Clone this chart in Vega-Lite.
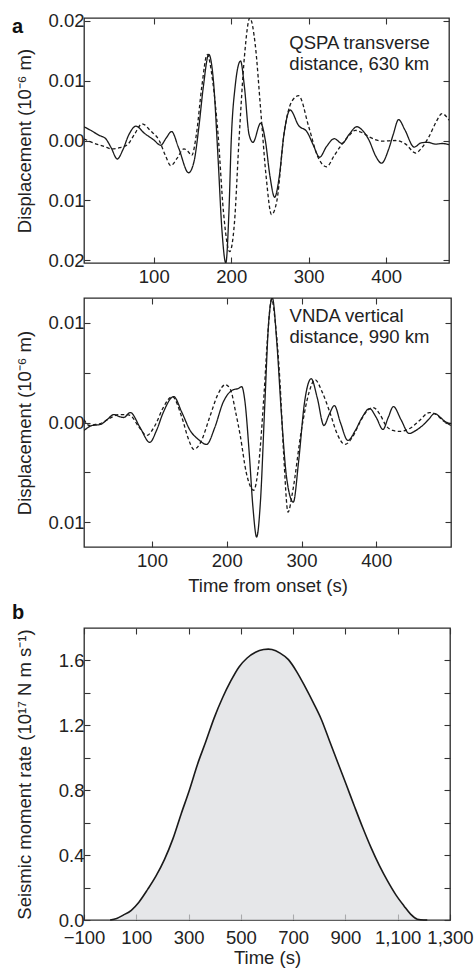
{
  "$schema": "https://vega.github.io/schema/vega-lite/v6.json",
  "padding": {"left": 11, "top": 11, "right": 0, "bottom": 0},
  "background": "white",
  "config": {
    "font": "Liberation Sans",
    "view": {"stroke": "#2a2a2a", "strokeWidth": 1.3},
    "axis": {"domain": false, "grid": false, "labelFont": "Liberation Sans", "titleFont": "Liberation Sans", "labelFontSize": 18.5, "titleFontSize": 18.5, "titleFontWeight": "normal", "labelColor": "#222", "titleColor": "#222", "tickColor": "#333", "tickWidth": 1.1, "tickSize": -6, "labelFlush": false, "labelOverlap": false},
    "axisX": {"labelPadding": 10},
    "axisY": {"labelPadding": 6, "titleX": -50}
  },
  "datasets": {
    "p1": [
      {"t":10,"v":0.0023,"s":"obs"},{"t":20,"v":0.0016,"s":"obs"},{"t":29,"v":0.0009,"s":"obs"},{"t":38,"v":0.0003,"s":"obs"},{"t":45,"v":-0.0012,"s":"obs"},{"t":53,"v":-0.0031,"s":"obs"},{"t":60,"v":-0.0016,"s":"obs"},{"t":68,"v":0.001,"s":"obs"},{"t":77,"v":0.0024,"s":"obs"},{"t":88,"v":0.0012,"s":"obs"},{"t":100,"v":0.0001,"s":"obs"},{"t":109,"v":-0.0008,"s":"obs"},{"t":116,"v":0.0004,"s":"obs"},{"t":123,"v":0.0015,"s":"obs"},{"t":132,"v":-0.0012,"s":"obs"},{"t":145,"v":-0.0054,"s":"obs"},{"t":152,"v":-0.0035,"s":"obs"},{"t":158,"v":0.002,"s":"obs"},{"t":164,"v":0.009,"s":"obs"},{"t":171,"v":0.0144,"s":"obs"},{"t":177,"v":0.01,"s":"obs"},{"t":183,"v":-0.003,"s":"obs"},{"t":188,"v":-0.015,"s":"obs"},{"t":193,"v":-0.0205,"s":"obs"},{"t":197,"v":-0.012,"s":"obs"},{"t":200,"v":0.0,"s":"obs"},{"t":205,"v":0.009,"s":"obs"},{"t":212,"v":0.0133,"s":"obs"},{"t":217,"v":0.009,"s":"obs"},{"t":223,"v":0.001,"s":"obs"},{"t":228,"v":-0.0003,"s":"obs"},{"t":238,"v":0.0029,"s":"obs"},{"t":244,"v":0.0,"s":"obs"},{"t":250,"v":-0.006,"s":"obs"},{"t":256,"v":-0.0095,"s":"obs"},{"t":262,"v":-0.006,"s":"obs"},{"t":268,"v":0.001,"s":"obs"},{"t":276,"v":0.0051,"s":"obs"},{"t":287,"v":0.0025,"s":"obs"},{"t":298,"v":0.0014,"s":"obs"},{"t":306,"v":-0.0008,"s":"obs"},{"t":314,"v":-0.0028,"s":"obs"},{"t":323,"v":-0.001,"s":"obs"},{"t":333,"v":0.0003,"s":"obs"},{"t":343,"v":-0.0005,"s":"obs"},{"t":352,"v":0.001,"s":"obs"},{"t":362,"v":0.0023,"s":"obs"},{"t":370,"v":0.0016,"s":"obs"},{"t":378,"v":0.0,"s":"obs"},{"t":386,"v":-0.0025,"s":"obs"},{"t":394,"v":-0.0038,"s":"obs"},{"t":403,"v":-0.0015,"s":"obs"},{"t":409,"v":0.001,"s":"obs"},{"t":416,"v":0.0035,"s":"obs"},{"t":424,"v":0.0018,"s":"obs"},{"t":436,"v":-0.0011,"s":"obs"},{"t":445,"v":-0.0004,"s":"obs"},{"t":453,"v":-0.0003,"s":"obs"},{"t":464,"v":-0.0006,"s":"obs"},{"t":472,"v":-0.0005,"s":"obs"},{"t":481,"v":-0.0007,"s":"obs"},
      {"t":10,"v":0.0003,"s":"syn"},{"t":18,"v":-0.0002,"s":"syn"},{"t":26,"v":-0.0006,"s":"syn"},{"t":36,"v":-0.001,"s":"syn"},{"t":46,"v":-0.0014,"s":"syn"},{"t":56,"v":-0.0012,"s":"syn"},{"t":66,"v":-0.0007,"s":"syn"},{"t":75,"v":0.001,"s":"syn"},{"t":85,"v":0.0028,"s":"syn"},{"t":96,"v":0.0016,"s":"syn"},{"t":107,"v":0.0,"s":"syn"},{"t":115,"v":-0.0025,"s":"syn"},{"t":122,"v":-0.0042,"s":"syn"},{"t":130,"v":-0.003,"s":"syn"},{"t":139,"v":-0.0014,"s":"syn"},{"t":144,"v":-0.0018,"s":"syn"},{"t":149,"v":-0.0025,"s":"syn"},{"t":155,"v":0.001,"s":"syn"},{"t":162,"v":0.009,"s":"syn"},{"t":169,"v":0.0144,"s":"syn"},{"t":176,"v":0.01,"s":"syn"},{"t":183,"v":0.001,"s":"syn"},{"t":190,"v":-0.012,"s":"syn"},{"t":198,"v":-0.0186,"s":"syn"},{"t":204,"v":-0.014,"s":"syn"},{"t":210,"v":0.0,"s":"syn"},{"t":217,"v":0.014,"s":"syn"},{"t":224,"v":0.0205,"s":"syn"},{"t":231,"v":0.016,"s":"syn"},{"t":238,"v":0.0051,"s":"syn"},{"t":245,"v":-0.006,"s":"syn"},{"t":252,"v":-0.0124,"s":"syn"},{"t":259,"v":-0.01,"s":"syn"},{"t":268,"v":0.001,"s":"syn"},{"t":278,"v":0.0065,"s":"syn"},{"t":287,"v":0.0075,"s":"syn"},{"t":300,"v":0.0023,"s":"syn"},{"t":311,"v":-0.0025,"s":"syn"},{"t":323,"v":-0.0044,"s":"syn"},{"t":333,"v":-0.0025,"s":"syn"},{"t":343,"v":-0.0006,"s":"syn"},{"t":352,"v":0.0008,"s":"syn"},{"t":360,"v":0.0017,"s":"syn"},{"t":369,"v":0.0013,"s":"syn"},{"t":378,"v":0.0006,"s":"syn"},{"t":395,"v":-0.0001,"s":"syn"},{"t":412,"v":0.0,"s":"syn"},{"t":425,"v":-0.0006,"s":"syn"},{"t":438,"v":-0.0021,"s":"syn"},{"t":446,"v":-0.0012,"s":"syn"},{"t":455,"v":0.0006,"s":"syn"},{"t":464,"v":0.003,"s":"syn"},{"t":472,"v":0.0045,"s":"syn"},{"t":481,"v":0.0034,"s":"syn"}
    ],
    "p2": [
      {"t":9,"v":-0.0008,"s":"obs"},{"t":20,"v":-0.0003,"s":"obs"},{"t":31,"v":-0.0002,"s":"obs"},{"t":40,"v":0.0003,"s":"obs"},{"t":49,"v":0.0008,"s":"obs"},{"t":56,"v":0.0006,"s":"obs"},{"t":62,"v":0.0005,"s":"obs"},{"t":71,"v":0.001,"s":"obs"},{"t":84,"v":-0.0005,"s":"obs"},{"t":97,"v":-0.002,"s":"obs"},{"t":106,"v":-0.0008,"s":"obs"},{"t":115,"v":0.001,"s":"obs"},{"t":129,"v":0.0026,"s":"obs"},{"t":140,"v":0.001,"s":"obs"},{"t":151,"v":-0.0008,"s":"obs"},{"t":162,"v":-0.0017,"s":"obs"},{"t":173,"v":-0.0022,"s":"obs"},{"t":184,"v":-0.0005,"s":"obs"},{"t":195,"v":0.002,"s":"obs"},{"t":209,"v":0.0033,"s":"obs"},{"t":215,"v":0.0034,"s":"obs"},{"t":220,"v":0.0036,"s":"obs"},{"t":224,"v":0.0023,"s":"obs"},{"t":230,"v":-0.003,"s":"obs"},{"t":235,"v":-0.0085,"s":"obs"},{"t":240,"v":-0.0115,"s":"obs"},{"t":245,"v":-0.008,"s":"obs"},{"t":251,"v":0.002,"s":"obs"},{"t":256,"v":0.01,"s":"obs"},{"t":261,"v":0.0125,"s":"obs"},{"t":267,"v":0.008,"s":"obs"},{"t":273,"v":0.001,"s":"obs"},{"t":280,"v":-0.0055,"s":"obs"},{"t":289,"v":-0.008,"s":"obs"},{"t":296,"v":-0.004,"s":"obs"},{"t":304,"v":0.002,"s":"obs"},{"t":313,"v":0.0044,"s":"obs"},{"t":321,"v":0.0025,"s":"obs"},{"t":330,"v":-0.0003,"s":"obs"},{"t":337,"v":0.0008,"s":"obs"},{"t":344,"v":0.0017,"s":"obs"},{"t":352,"v":0.0,"s":"obs"},{"t":362,"v":-0.0018,"s":"obs"},{"t":372,"v":-0.0008,"s":"obs"},{"t":381,"v":0.0005,"s":"obs"},{"t":391,"v":0.0014,"s":"obs"},{"t":400,"v":0.0005,"s":"obs"},{"t":409,"v":-0.0007,"s":"obs"},{"t":416,"v":0.0005,"s":"obs"},{"t":423,"v":0.0016,"s":"obs"},{"t":433,"v":0.0003,"s":"obs"},{"t":444,"v":-0.0011,"s":"obs"},{"t":453,"v":-0.0008,"s":"obs"},{"t":462,"v":-0.0003,"s":"obs"},{"t":470,"v":0.0003,"s":"obs"},{"t":478,"v":0.0009,"s":"obs"},{"t":486,"v":0.0005,"s":"obs"},{"t":492,"v":0.0001,"s":"obs"},{"t":500,"v":-0.0001,"s":"obs"},
      {"t":9,"v":0.0003,"s":"syn"},{"t":16,"v":-0.0003,"s":"syn"},{"t":24,"v":-0.0002,"s":"syn"},{"t":31,"v":-0.0001,"s":"syn"},{"t":43,"v":0.0004,"s":"syn"},{"t":56,"v":0.0008,"s":"syn"},{"t":64,"v":0.0008,"s":"syn"},{"t":71,"v":0.0007,"s":"syn"},{"t":82,"v":-0.0004,"s":"syn"},{"t":93,"v":-0.0013,"s":"syn"},{"t":104,"v":-0.0003,"s":"syn"},{"t":115,"v":0.0015,"s":"syn"},{"t":127,"v":0.0026,"s":"syn"},{"t":140,"v":0.0005,"s":"syn"},{"t":148,"v":-0.0015,"s":"syn"},{"t":156,"v":-0.0027,"s":"syn"},{"t":165,"v":-0.002,"s":"syn"},{"t":177,"v":0.0005,"s":"syn"},{"t":188,"v":0.0028,"s":"syn"},{"t":198,"v":0.0038,"s":"syn"},{"t":205,"v":0.0033,"s":"syn"},{"t":212,"v":0.001,"s":"syn"},{"t":218,"v":-0.0013,"s":"syn"},{"t":226,"v":-0.005,"s":"syn"},{"t":236,"v":-0.0068,"s":"syn"},{"t":243,"v":-0.004,"s":"syn"},{"t":250,"v":0.003,"s":"syn"},{"t":255,"v":0.009,"s":"syn"},{"t":260,"v":0.0124,"s":"syn"},{"t":265,"v":0.01,"s":"syn"},{"t":271,"v":0.0043,"s":"syn"},{"t":276,"v":-0.003,"s":"syn"},{"t":282,"v":-0.009,"s":"syn"},{"t":288,"v":-0.007,"s":"syn"},{"t":300,"v":-0.0007,"s":"syn"},{"t":310,"v":0.003,"s":"syn"},{"t":318,"v":0.0043,"s":"syn"},{"t":328,"v":0.003,"s":"syn"},{"t":338,"v":0.001,"s":"syn"},{"t":348,"v":-0.0012,"s":"syn"},{"t":358,"v":-0.0022,"s":"syn"},{"t":368,"v":-0.0015,"s":"syn"},{"t":378,"v":0.0,"s":"syn"},{"t":387,"v":0.0011,"s":"syn"},{"t":396,"v":0.0015,"s":"syn"},{"t":405,"v":0.0008,"s":"syn"},{"t":413,"v":-0.0003,"s":"syn"},{"t":422,"v":-0.0008,"s":"syn"},{"t":431,"v":-0.0009,"s":"syn"},{"t":447,"v":-0.0005,"s":"syn"},{"t":458,"v":0.0002,"s":"syn"},{"t":471,"v":0.001,"s":"syn"},{"t":480,"v":0.0008,"s":"syn"},{"t":489,"v":0.0002,"s":"syn"},{"t":500,"v":-0.0003,"s":"syn"}
    ],
    "p3": [
      {"t":0,"v":0},{"t":25,"v":0.01},{"t":50,"v":0.03},{"t":81,"v":0.06},{"t":110,"v":0.11},{"t":144,"v":0.19},{"t":175,"v":0.27},{"t":208,"v":0.374},{"t":240,"v":0.5},{"t":271,"v":0.651},{"t":303,"v":0.8},{"t":334,"v":0.959},{"t":366,"v":1.1},{"t":398,"v":1.246},{"t":430,"v":1.37},{"t":461,"v":1.472},{"t":493,"v":1.56},{"t":524,"v":1.615},{"t":556,"v":1.65},{"t":587,"v":1.667},{"t":605,"v":1.67},{"t":619,"v":1.667},{"t":650,"v":1.645},{"t":682,"v":1.605},{"t":714,"v":1.53},{"t":745,"v":1.44},{"t":777,"v":1.34},{"t":808,"v":1.236},{"t":840,"v":1.1},{"t":871,"v":0.969},{"t":903,"v":0.835},{"t":934,"v":0.703},{"t":966,"v":0.57},{"t":998,"v":0.446},{"t":1030,"v":0.335},{"t":1061,"v":0.241},{"t":1093,"v":0.155},{"t":1124,"v":0.087},{"t":1150,"v":0.035},{"t":1175,"v":0.005},{"t":1200,"v":0},{"t":1213,"v":0}
    ],
    "notes": [
      {"panel": "p1", "t": 275, "v": 0.0178, "label": "QSPA transverse\ndistance, 630 km"},
      {"panel": "p2", "t": 284, "v": 0.0116, "label": "VNDA vertical\ndistance, 990 km"}
    ]
  },
  "spacing": 6,
  "vconcat": [
    {
      "spacing": 7,
      "vconcat": [
        {
          "width": 365, "height": 245,
          "title": {"text": "a", "anchor": "start", "frame": "bounds", "fontSize": 20, "fontWeight": "bold", "color": "#111", "offset": -25, "dx": -3},
          "layer": [
            {
              "data": {"name": "p1"},
              "mark": {"type": "line", "interpolate": "monotone", "strokeWidth": 1.3, "color": "#1a1a1a", "clip": true},
              "encoding": {
                "x": {"field": "t", "type": "quantitative", "scale": {"domain": [10, 481], "nice": false, "zero": false}, "axis": {"values": [100, 200, 300, 400], "title": null}},
                "y": {"field": "v", "type": "quantitative", "scale": {"domain": [-0.0205, 0.0205], "nice": false, "zero": false}, "axis": {"values": [-0.02, -0.01, 0, 0.01, 0.02], "labelExpr": "format(abs(datum.value), '.2f')", "title": "Displacement (10⁻⁶ m)"}},
                "strokeDash": {"field": "s", "type": "nominal", "scale": {"domain": ["obs", "syn"], "range": [[1, 0], [3.5, 2.5]]}, "legend": null}
              }
            },
            {
              "data": {"name": "p1"},
              "mark": {"type": "point", "opacity": 0},
              "encoding": {
                "x": {"field": "t", "type": "quantitative", "axis": {"orient": "top", "values": [100, 200, 300, 400], "labels": false, "title": null}},
                "y": {"field": "v", "type": "quantitative", "axis": {"orient": "right", "values": [-0.02, -0.01, 0, 0.01, 0.02], "labels": false, "title": null}}
              }
            },
            {
              "data": {"name": "notes"},
              "transform": [{"filter": "datum.panel == 'p1'"}],
              "mark": {"type": "text", "align": "left", "baseline": "top", "fontSize": 18.5, "lineHeight": 21, "lineBreak": "\n", "color": "#222"},
              "encoding": {
                "x": {"field": "t", "type": "quantitative", "axis": null},
                "y": {"field": "v", "type": "quantitative", "axis": null},
                "text": {"field": "label"}
              }
            }
          ],
          "resolve": {"axis": {"x": "independent", "y": "independent"}}
        },
        {
          "width": 367, "height": 249,
          "layer": [
            {
              "data": {"name": "p2"},
              "mark": {"type": "line", "interpolate": "monotone", "strokeWidth": 1.3, "color": "#1a1a1a", "clip": true},
              "encoding": {
                "x": {"field": "t", "type": "quantitative", "scale": {"domain": [9, 500], "nice": false, "zero": false}, "axis": {"values": [100, 200, 300, 400], "title": "Time from onset (s)", "titlePadding": 7}},
                "y": {"field": "v", "type": "quantitative", "scale": {"domain": [-0.0125, 0.0125], "nice": false, "zero": false}, "axis": {"values": [-0.01, -0.005, 0, 0.005, 0.01], "labelExpr": "(datum.value == 0 || abs(datum.value) > 0.007) ? format(abs(datum.value), '.2f') : ''", "title": "Displacement (10⁻⁶ m)"}},
                "strokeDash": {"field": "s", "type": "nominal", "scale": {"domain": ["obs", "syn"], "range": [[1, 0], [3.5, 2.5]]}, "legend": null}
              }
            },
            {
              "data": {"name": "p2"},
              "mark": {"type": "point", "opacity": 0},
              "encoding": {
                "x": {"field": "t", "type": "quantitative", "axis": {"orient": "top", "values": [100, 200, 300, 400], "labels": false, "title": null}},
                "y": {"field": "v", "type": "quantitative", "axis": {"orient": "right", "values": [-0.01, -0.005, 0, 0.005, 0.01], "labels": false, "title": null}}
              }
            },
            {
              "data": {"name": "notes"},
              "transform": [{"filter": "datum.panel == 'p2'"}],
              "mark": {"type": "text", "align": "left", "baseline": "top", "fontSize": 18.5, "lineHeight": 21, "lineBreak": "\n", "color": "#222"},
              "encoding": {
                "x": {"field": "t", "type": "quantitative", "axis": null},
                "y": {"field": "v", "type": "quantitative", "axis": null},
                "text": {"field": "label"}
              }
            }
          ],
          "resolve": {"axis": {"x": "independent", "y": "independent"}}
        }
      ]
    },
    {
      "width": 366, "height": 292,
      "title": {"text": "b", "anchor": "start", "frame": "bounds", "fontSize": 20, "fontWeight": "bold", "color": "#111", "offset": 4, "dx": -3},
      "layer": [
        {
          "data": {"name": "p3"},
          "mark": {"type": "area", "interpolate": "monotone", "color": "#dcdde0", "line": {"color": "#1a1a1a", "strokeWidth": 1.6}},
          "encoding": {
            "x": {"field": "t", "type": "quantitative", "scale": {"domain": [-100, 1300], "nice": false, "zero": false}, "axis": {"values": [-100, 100, 300, 500, 700, 900, 1100, 1300], "format": ",d", "title": "Time (s)", "titlePadding": 2, "labelPadding": 14}},
            "y": {"field": "v", "type": "quantitative", "scale": {"domain": [0, 1.8], "nice": false}, "axis": {"values": [0, 0.2, 0.4, 0.6, 0.8, 1.0, 1.2, 1.4, 1.6], "labelExpr": "indexof([0, 0.4, 0.8, 1.2, 1.6], datum.value) >= 0 ? format(datum.value, '.1f') : ''", "title": "Seismic moment rate (10¹⁷ N m s⁻¹)"}}
          }
        },
        {
          "data": {"name": "p3"},
          "mark": {"type": "point", "opacity": 0},
          "encoding": {
            "x": {"field": "t", "type": "quantitative", "axis": {"orient": "top", "values": [-100, 100, 300, 500, 700, 900, 1100, 1300], "labels": false, "title": null}},
            "y": {"field": "v", "type": "quantitative", "axis": {"orient": "right", "values": [0, 0.2, 0.4, 0.6, 0.8, 1.0, 1.2, 1.4, 1.6], "labels": false, "title": null}}
          }
        }
      ],
      "resolve": {"axis": {"x": "independent", "y": "independent"}}
    }
  ]
}
